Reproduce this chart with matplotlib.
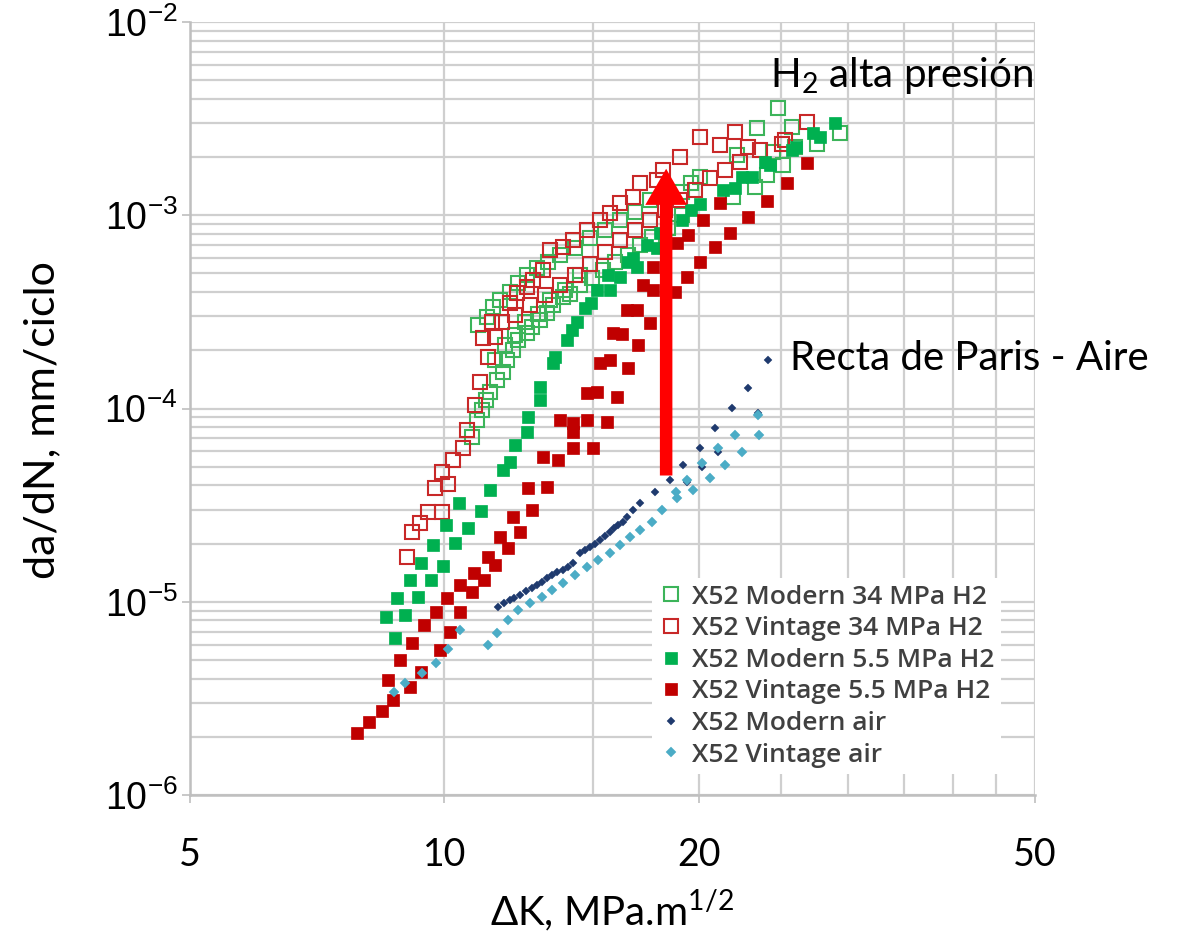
import numpy as np
import matplotlib
matplotlib.use("Agg")
import matplotlib.pyplot as plt
from matplotlib.ticker import FixedLocator, NullFormatter, LogLocator, FuncFormatter

# y tick labels look like Arial, everything else like Calibri
plt.rcParams['font.family'] = ['Liberation Sans', 'DejaVu Sans']
calibri = ['Lato', 'DejaVu Sans']

# X52 Modern 34 MPa H2 (open green)
mod34_dk = [10.78, 10.94, 11.08, 11.21, 11.32, 11.55, 11.73, 11.86, 12.06, 12.22, 12.52, 12.70, 12.98,
            13.23, 13.45, 13.81, 14.08, 14.47, 14.95, 15.41, 15.92, 16.49, 17.04, 17.60, 18.39, 19.10,
            10.96, 11.23, 11.43, 11.64, 11.96, 12.22, 12.52, 12.87, 13.26, 13.70, 14.28, 14.87, 15.49,
            16.14, 16.81, 17.51, 19.10, 19.60, 20.07, 21.96, 22.19, 23.31, 23.44, 24.09, 24.50, 24.82,
            25.15, 25.79, 25.98, 27.60, 29.39,
            11.48, 11.80, 12.12, 12.46, 12.90, 13.33, 13.90, 14.47]
mod34_dadn = [7.12e-5, 8.72e-5, 9.82e-5, 1.107e-4, 1.217e-4, 1.405e-4, 1.54e-4, 1.78e-4, 2.01e-4, 2.26e-4,
              2.46e-4, 2.64e-4, 2.87e-4, 3.12e-4, 3.43e-4, 3.77e-4, 3.91e-4, 4.36e-4, 4.74e-4, 5.21e-4,
              5.73e-4, 6.23e-4, 7.02e-4, 7.72e-4, 8.6e-4, 1.0e-3,
              2.7e-4, 2.97e-4, 3.35e-4, 3.64e-4, 4.0e-4, 4.47e-4, 4.91e-4, 5.34e-4, 5.73e-4, 6.23e-4,
              6.77e-4, 7.63e-4, 8.39e-4, 9.45e-4, 1.04e-3, 1.2e-3, 1.32e-3, 1.47e-3, 1.58e-3, 1.245e-3,
              2.05e-3, 1.40e-3, 2.83e-3, 1.62e-3, 2.12e-3, 3.59e-3, 1.82e-3, 2.86e-3, 2.26e-3, 2.35e-3,
              2.67e-3,
              1.78e-4, 2.13e-4, 2.40e-4, 2.8e-4, 3.1e-4, 3.64e-4, 4.1e-4, 4.9e-4]

# X52 Vintage 34 MPa H2 (open red)
vin34_dk = [9.03, 9.16, 9.36, 9.56, 9.94, 9.75, 10.10, 9.94, 10.24, 10.52, 10.63, 10.87, 11.02, 11.26,
            11.11, 11.48, 11.39, 11.70, 11.96, 12.19, 12.52, 12.73, 13.08, 13.33, 13.82, 14.20, 14.75,
            15.28, 15.70, 16.14, 16.72, 17.04, 17.85, 18.15, 19.00, 20.07, 21.19, 22.08, 22.87, 25.10,
            26.86,
            12.12, 12.63, 13.16, 13.70, 14.28, 14.87, 15.49, 16.14, 16.81, 17.51, 18.25, 19.00, 19.80,
            20.62, 21.48, 22.38, 23.63, 25.30]
vin34_dadn = [1.70e-5, 2.29e-5, 2.56e-5, 2.91e-5, 2.91e-5, 3.88e-5, 4.07e-5, 4.69e-5, 5.41e-5, 6.24e-5,
              7.74e-5, 1.043e-4, 1.37e-4, 1.85e-4, 2.32e-4, 2.35e-4, 2.8e-4, 2.8e-4, 3.51e-4, 3.96e-4,
              4.26e-4, 4.63e-4, 5.21e-4, 6.61e-4, 6.85e-4, 7.45e-4, 8.39e-4, 9.45e-4, 1.03e-3, 1.16e-3,
              1.245e-3, 1.47e-3, 1.523e-3, 1.715e-3, 2.0e-3, 2.54e-3, 2.31e-3, 2.70e-3, 2.26e-3, 2.33e-3,
              3.04e-3,
              3.04e-4, 3.43e-4, 3.86e-4, 4.36e-4, 4.91e-4, 5.6e-4, 6.45e-4, 7.45e-4, 8.39e-4, 9.45e-4,
              1.065e-3, 1.2e-3, 1.352e-3, 1.56e-3, 1.715e-3, 1.886e-3, 2.177e-3, 2.452e-3]

# X52 Modern 5.5 MPa H2 (filled green)
mod55_dk = [8.73, 8.52, 8.98, 8.78, 9.31, 9.11, 9.64, 9.38, 9.96, 9.69, 10.29, 10.04, 10.66, 10.41,
            11.05, 11.32, 11.73, 11.96, 12.12, 12.52, 12.56, 12.98, 12.98, 13.44, 13.50, 13.97, 14.16,
            14.35, 14.67, 14.91, 15.15, 15.70, 15.62, 16.14, 16.49, 16.90, 16.72, 17.37, 17.85, 18.00,
            19.10, 19.60, 20.07, 21.37, 22.08, 22.50, 23.12, 23.96, 24.29, 25.79, 26.10, 27.27, 27.83,
            28.99]
mod55_dadn = [6.5e-6, 8.33e-6, 8.5e-6, 1.046e-5, 1.06e-5, 1.30e-5, 1.30e-5, 1.58e-5, 1.54e-5, 1.97e-5,
              2.01e-5, 2.5e-5, 2.41e-5, 3.24e-5, 2.94e-5, 3.79e-5, 4.81e-5, 5.28e-5, 6.47e-5, 7.55e-5,
              9.03e-5, 1.107e-4, 1.29e-4, 1.72e-4, 1.85e-4, 2.26e-4, 2.55e-4, 2.8e-4, 3.31e-4, 3.5e-4,
              4.10e-4, 4.10e-4, 4.91e-4, 4.8e-4, 5.73e-4, 5.4e-4, 6.0e-4, 7.0e-4, 6.77e-4, 8.1e-4,
              9.45e-4, 1.065e-3, 1.14e-3, 1.352e-3, 1.38e-3, 1.58e-3, 1.58e-3, 1.89e-3, 1.82e-3,
              2.177e-3, 2.25e-3, 2.67e-3, 2.55e-3, 3.0e-3]

# X52 Vintage 5.5 MPa H2 (filled red)
vin55_dk = [7.88, 8.14, 8.44, 8.69, 8.57, 9.11, 8.86, 9.38, 9.16, 9.88, 9.46, 10.16, 9.78, 10.44, 10.07,
            10.44, 10.78, 10.84, 11.14, 11.26, 11.48, 11.64, 11.89, 12.06, 12.29, 12.56, 12.70, 13.23,
            13.08, 13.63, 14.20, 14.99, 13.70, 14.20, 14.75, 14.20, 15.58, 14.75, 15.16, 16.00, 15.28,
            15.70, 16.49, 15.83, 16.23, 16.95, 16.45, 16.90, 17.51, 17.18, 17.66, 17.66, 18.75, 19.37,
            18.85, 19.42, 20.23, 21.19, 20.07, 20.90, 21.78, 22.87, 24.09, 25.44, 26.86]
vin55_dadn = [2.09e-6, 2.38e-6, 2.72e-6, 3.10e-6, 3.94e-6, 3.63e-6, 5.0e-6, 4.33e-6, 6.12e-6, 5.63e-6,
              7.57e-6, 6.97e-6, 8.85e-6, 8.85e-6, 1.045e-5, 1.225e-5, 1.12e-5, 1.41e-5, 1.30e-5, 1.70e-5,
              1.55e-5, 2.16e-5, 1.90e-5, 2.74e-5, 2.29e-5, 3.88e-5, 2.98e-5, 3.93e-5, 5.61e-5, 5.41e-5,
              6.24e-5, 6.24e-5, 8.72e-5, 8.41e-5, 8.72e-5, 7.55e-5, 8.5e-5, 1.20e-4, 1.218e-4, 1.147e-4,
              1.72e-4, 1.78e-4, 1.62e-4, 2.46e-4, 2.43e-4, 2.13e-4, 3.23e-4, 3.23e-4, 2.77e-4, 4.36e-4,
              4.10e-4, 5.40e-4, 4.0e-4, 4.79e-4, 7.19e-4, 7.9e-4, 9.45e-4, 1.158e-3, 5.73e-4, 6.85e-4,
              8.1e-4, 9.8e-4, 1.18e-3, 1.47e-3, 1.86e-3]

# X52 Modern air (dark blue)
modair_dk = [11.57, 11.96, 12.29, 12.70, 13.05, 13.40, 13.81, 14.20, 14.47, 14.87, 15.28, 15.70, 16.05,
             16.45, 16.72, 17.04, 17.75, 18.49, 19.16, 20.07, 20.90, 21.90, 22.87, 24.16, 20.20, 19.37,
             21.10, 23.50, 11.75, 12.10, 12.50, 12.88, 13.22, 13.60, 14.00, 14.65, 15.07, 15.50, 15.87,
             16.25]
modair_dadn = [9.4e-6, 1.02e-5, 1.083e-5, 1.18e-5, 1.27e-5, 1.375e-5, 1.46e-5, 1.58e-5, 1.79e-5, 1.92e-5,
               2.09e-5, 2.29e-5, 2.5e-5, 2.74e-5, 2.98e-5, 3.24e-5, 3.7e-5, 4.27e-5, 5.1e-5, 6.24e-5,
               7.93e-5, 1.006e-4, 1.277e-4, 1.78e-4, 4.98e-5, 4.17e-5, 5.95e-5, 9.48e-5, 9.9e-6, 1.05e-5,
               1.13e-5, 1.22e-5, 1.32e-5, 1.42e-5, 1.52e-5, 1.85e-5, 2.0e-5, 2.2e-5, 2.4e-5, 2.6e-5]

# X52 Vintage air (light blue)
vinair_dk = [8.71, 8.99, 9.41, 9.78, 10.09, 10.44, 11.25, 11.55, 11.90, 12.23, 12.63, 13.05, 13.40,
             13.81, 14.28, 14.75, 15.20, 15.70, 16.14, 16.58, 17.04, 17.60, 18.09, 18.80, 18.85, 19.37,
             19.70, 20.20, 20.62, 21.10, 21.48, 22.08, 22.50, 23.50, 23.57]
vinair_dadn = [3.41e-6, 3.8e-6, 4.28e-6, 4.83e-6, 5.7e-6, 7.14e-6, 5.97e-6, 6.89e-6, 8.04e-6, 9.06e-6,
               9.85e-6, 1.06e-5, 1.15e-5, 1.255e-5, 1.375e-5, 1.51e-5, 1.64e-5, 1.79e-5, 1.97e-5, 2.16e-5,
               2.35e-5, 2.59e-5, 2.98e-5, 3.7e-5, 3.44e-5, 4.27e-5, 3.79e-5, 5.22e-5, 4.37e-5, 6.24e-5,
               5.1e-5, 7.29e-5, 5.95e-5, 9.25e-5, 7.29e-5]

labels = ["X52 Modern 34 MPa H2", "X52 Vintage 34 MPa H2", "X52 Modern 5.5 MPa H2",
          "X52 Vintage 5.5 MPa H2", "X52 Modern air", "X52 Vintage air"]

fig = plt.figure(figsize=(11.81, 9.44), dpi=100)
ax = fig.add_axes([190 / 1181, 149 / 944, 845 / 1181, 773 / 944])

green = "#00b050"
red = "#c00000"

ax.plot(mod34_dk, mod34_dadn, ls="none", marker="s", ms=10, mfc="none", mec="#3cb45a", mew=1.5,
        label=labels[0])
ax.plot(vin34_dk, vin34_dadn, ls="none", marker="s", ms=10, mfc="none", mec="#c82828", mew=1.5,
        label=labels[1])
ax.plot(mod55_dk, mod55_dadn, ls="none", marker="s", ms=9, mfc=green, mec=green, mew=0.5,
        label=labels[2])
ax.plot(vin55_dk, vin55_dadn, ls="none", marker="s", ms=9, mfc=red, mec=red, mew=0.5,
        label=labels[3])
ax.plot(modair_dk, modair_dadn, ls="none", marker="D", ms=4.2, mfc="#1f3a6e", mec="#1f3a6e", mew=0.3,
        label=labels[4])
ax.plot(vinair_dk, vinair_dadn, ls="none", marker="D", ms=4.8, mfc="#4bacc6", mec="#4bacc6", mew=0.3,
        label=labels[5])

ax.set_xscale("log")
ax.set_yscale("log")
ax.set_xlim(5, 50)
ax.set_ylim(1e-6, 1e-2)

ax.xaxis.set_major_locator(FixedLocator([5, 10, 20, 50]))
ax.xaxis.set_major_formatter(FuncFormatter(lambda v, p: "%d" % round(v)))
ax.xaxis.set_minor_locator(FixedLocator([15, 25, 30, 35, 40, 45]))
ax.xaxis.set_minor_formatter(NullFormatter())
ax.yaxis.set_major_locator(LogLocator(base=10, numticks=10))
ax.yaxis.set_major_formatter(FuncFormatter(lambda v, p: "10$^{\\mathregular{%d}}$" % round(np.log10(v))))
ax.yaxis.set_minor_locator(LogLocator(base=10, subs=np.arange(2, 10), numticks=20))
ax.yaxis.set_minor_formatter(NullFormatter())

ax.grid(True, which="both", color="#cfcfcf", lw=1.6)
ax.set_axisbelow(True)
for s in ["top", "right"]:
    ax.spines[s].set_visible(False)
for s in ["left", "bottom"]:
    ax.spines[s].set_color("#bfbfbf")
    ax.spines[s].set_linewidth(1.8)

ax.tick_params(axis="y", which="major", length=6, width=1.2, color="#bfbfbf", pad=3, labelsize=27)
ax.tick_params(axis="y", which="minor", length=0)
ax.tick_params(axis="x", which="major", length=6, width=1.2, color="#bfbfbf", pad=24, labelsize=27,
               labelfontfamily="Lato")
ax.tick_params(axis="x", which="minor", length=0)

# red arrow
ax.annotate("", xy=(18.3, 1.74e-3), xytext=(18.3, 4.5e-5),
            arrowprops=dict(arrowstyle="simple,head_length=2.6,head_width=3.0,tail_width=0.9",
                            mutation_scale=10, fc="red", ec="none", shrinkA=0, shrinkB=0))

leg = ax.legend(loc="upper left", bbox_to_anchor=(0.547, 0.2807), frameon=True, fancybox=False,
                facecolor="white", edgecolor="none", framealpha=1, borderaxespad=0, borderpad=0.25,
                handlelength=0.9, handletextpad=0.35, labelspacing=0.25,
                prop={"family": "Open Sans", "size": 19, "weight": "semibold"})
for t in leg.get_texts():
    t.set_color("#404040")

fig.text(770 / 1181, 1 - 75 / 944, "H$_{\\mathregular{2}}$ alta presión", fontsize=29,
         family=calibri, ha="left", va="center")
fig.text(790 / 1181, 1 - 358 / 944, "Recta de Paris - Aire", fontsize=29, family=calibri,
         ha="left", va="center")
fig.text(42 / 1181, 1 - 420 / 944, "da/dN, mm/ciclo", fontsize=31, family=calibri, rotation=90,
         ha="center", va="center")
fig.text(612 / 1181, 1 - 910 / 944, "ΔK, MPa.m$^{\\mathregular{1/2}}$", fontsize=29, family=calibri,
         ha="center", va="center")

fig.savefig("out.png", dpi=100)
